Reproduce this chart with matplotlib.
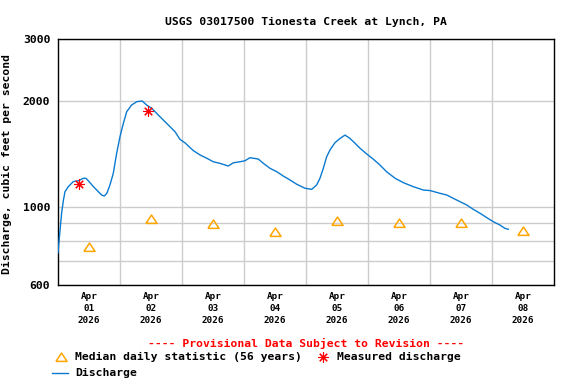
"""USGS style discharge hydrograph for Tionesta Creek at Lynch, PA."""

import matplotlib
matplotlib.use('Agg')
import matplotlib.pyplot as plt
from matplotlib.lines import Line2D
from matplotlib.ticker import NullFormatter

# hours since 2026-04-01 00:00 and discharge (cfs)
hours = [0.0, 0.4, 0.8, 1.4, 2.1, 2.7, 4.0, 5.9, 7.9, 9.8,
         10.8, 11.7, 13.7, 15.6, 16.9, 17.9, 18.9, 20.1, 21.4, 22.7,
         24.0, 25.3, 26.6, 28.5, 30.5, 32.6, 34.3, 36.3, 38.8, 42.7,
         45.3, 47.2, 49.2, 52.4, 55.0, 57.6, 60.1, 62.7, 65.9, 67.9,
         70.5, 72.4, 74.3, 77.5, 79.5, 82.1, 84.7, 87.2, 89.8, 92.4,
         95.6, 98.2, 100.1, 101.4, 102.7, 104.0, 105.3, 107.2, 109.2, 111.1,
         113.0, 115.0, 116.9, 119.5, 122.1, 124.6, 127.2, 130.5, 133.7, 137.5,
         141.4, 144.0, 147.9, 150.5, 153.0, 155.6, 158.2, 160.8, 163.4, 166.0,
         168.5, 171.1, 173.0, 174.3]
flow = [740, 800, 860, 961, 1046, 1105, 1142, 1180, 1187, 1206,
        1206, 1187, 1142, 1105, 1081, 1074, 1093, 1154, 1246, 1420,
        1584, 1728, 1865, 1948, 1991, 2000, 1948, 1906, 1825, 1709,
        1636, 1556, 1520, 1445, 1405, 1375, 1344, 1330, 1307, 1335,
        1344, 1353, 1380, 1368, 1330, 1287, 1259, 1224, 1193, 1160,
        1130, 1122, 1154, 1206, 1287, 1389, 1452, 1522, 1566, 1600,
        1566, 1516, 1468, 1414, 1366, 1316, 1259, 1206, 1172, 1142,
        1117, 1113, 1093, 1081, 1058, 1035, 1013, 984, 959, 932,
        908, 888, 869, 864]

measured_hours = [8.1, 34.8]
measured_flow = [1160, 1877]

median_hours = [12, 36, 60, 84, 108, 132, 156, 180]
median_flow = [768, 922, 894, 849, 914, 902, 902, 856]

day_labels = ['Apr\n01\n2026', 'Apr\n02\n2026', 'Apr\n03\n2026', 'Apr\n04\n2026',
              'Apr\n05\n2026', 'Apr\n06\n2026', 'Apr\n07\n2026', 'Apr\n08\n2026']

BLUE = '#0a7ad0'
ORANGE = '#ffa500'
RED = '#ff0000'
GRID = '#cccccc'
FONT = 'DejaVu Sans Mono'

plt.rcParams['font.family'] = FONT
plt.rcParams['font.weight'] = 'bold'

fig = plt.figure(figsize=(5.76, 3.84), dpi=100)
ax = fig.add_axes([0.1007, 0.2578, 0.8611, 0.6406])

tri = [(-1, -0.7), (1, -0.7), (0, 0.8), (-1, -0.7)]
star = (8, 2, 0)

ax.plot(hours, flow, color=BLUE, lw=1.0, zorder=3)
ax.plot(median_hours, median_flow, ls='none', marker=tri, ms=8,
        mfc='none', mec=ORANGE, mew=1.1, zorder=4)
ax.plot(measured_hours, measured_flow, ls='none', marker=star, ms=7.5,
        mec=RED, mew=0.8, zorder=5)

ax.set_yscale('log')
ax.set_ylim(600, 3000)
ax.set_xlim(0, 192)

ax.set_yticks([600, 1000, 2000, 3000])
ax.set_yticklabels(['600', '1000', '2000', '3000'])
ax.set_yticks([700, 800, 900], minor=True)
ax.yaxis.set_minor_formatter(NullFormatter())

# gridlines at midnight, day labels at noon
ax.set_xticks([24 * i for i in range(1, 8)])
ax.set_xticklabels([])
ax.set_xticks(median_hours, minor=True)
ax.set_xticklabels(day_labels, minor=True, fontsize=6.7, linespacing=1.45)

ax.grid(True, which='major', color=GRID, lw=1.0, zorder=0)
ax.grid(True, which='minor', axis='y', color=GRID, lw=1.0, zorder=0)
ax.set_axisbelow(True)
ax.tick_params(which='both', length=0)
ax.tick_params(axis='y', labelsize=8.2, pad=5.5)
ax.tick_params(axis='x', which='minor', pad=5)
for s in ax.spines.values():
    s.set_linewidth(1.0)

ax.set_title('USGS 03017500 Tionesta Creek at Lynch, PA', fontsize=8.2,
             fontweight='bold', pad=10)
ax.set_ylabel('Discharge, cubic feet per second', fontsize=8.2, fontweight='bold')
ax.yaxis.set_label_coords(-0.093, 0.49)

# legend block under the plot
fig.text(0.5307, 0.1068, '---- Provisional Data Subject to Revision ----',
         color=RED, fontsize=8.2, ha='center', va='center')
fig.add_artist(Line2D([0.1054], [0.0711], ls='none', marker=tri, ms=8,
                      mfc='none', mec=ORANGE, mew=1.1, transform=fig.transFigure))
fig.text(0.1302, 0.0711, 'Median daily statistic (56 years)', fontsize=8.2,
         ha='left', va='center')
fig.add_artist(Line2D([0.5602], [0.0711], ls='none', marker=star, ms=7.5,
                      mec=RED, mew=0.8, transform=fig.transFigure))
fig.text(0.5846, 0.0711, 'Measured discharge', fontsize=8.2, ha='left', va='center')
fig.add_artist(Line2D([0.0898, 0.1186], [0.0294, 0.0294], color=BLUE, lw=1.0,
                      transform=fig.transFigure))
fig.text(0.1302, 0.0294, 'Discharge', fontsize=8.2, ha='left', va='center')

fig.savefig('out.png', dpi=100)
